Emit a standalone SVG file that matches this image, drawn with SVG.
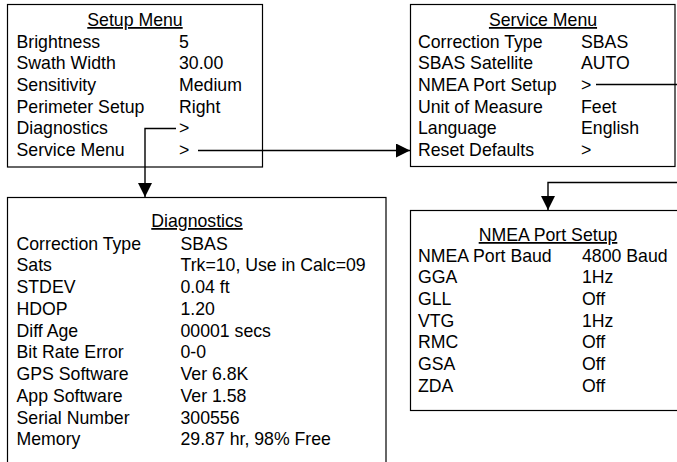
<svg xmlns="http://www.w3.org/2000/svg" width="677" height="462" viewBox="0 0 677 462">
<style>
  .box { fill: #fff; stroke: #000; stroke-width: 1.2; }
  text { font-family: "Liberation Sans", Arial, sans-serif; font-size: 17.7px; fill: #000; }
  .title { text-anchor: middle; text-decoration: underline; }
  .conn { fill: none; stroke: #000; stroke-width: 1.4; }
</style>
<defs>
  <marker id="arr" viewBox="0 0 14 14" refX="14" refY="7" markerWidth="14" markerHeight="14" markerUnits="userSpaceOnUse" orient="auto">
    <path d="M0,0 L14,7 L0,14 Z" fill="#000"/>
  </marker>
</defs>
<rect width="677" height="462" fill="#fff"/>

<g id="setup-menu">
  <rect class="box" x="7.5" y="4.5" width="255" height="162.5"/>
  <text class="title" x="135" y="26">Setup Menu</text>
  <text x="16.5" y="47.7">Brightness</text><text x="179" y="47.7">5</text>
  <text x="16.5" y="69.3">Swath Width</text><text x="179" y="69.3">30.00</text>
  <text x="16.5" y="91">Sensitivity</text><text x="179" y="91">Medium</text>
  <text x="16.5" y="112.6">Perimeter Setup</text><text x="179" y="112.6">Right</text>
  <text x="16.5" y="134.3">Diagnostics</text><text x="179" y="134.3">&gt;</text>
  <text x="16.5" y="156">Service Menu</text><text x="179" y="156">&gt;</text>
</g>

<g id="service-menu">
  <rect class="box" x="410.5" y="4.5" width="264.5" height="162"/>
  <text class="title" x="543" y="26">Service Menu</text>
  <text x="418" y="47.7">Correction Type</text><text x="581" y="47.7">SBAS</text>
  <text x="418" y="69.3">SBAS Satellite</text><text x="581" y="69.3">AUTO</text>
  <text x="418" y="91">NMEA Port Setup</text><text x="581" y="91">&gt;</text>
  <text x="418" y="112.6">Unit of Measure</text><text x="581" y="112.6">Feet</text>
  <text x="418" y="134.3">Language</text><text x="581" y="134.3">English</text>
  <text x="418" y="156">Reset Defaults</text><text x="581" y="156">&gt;</text>
</g>

<g id="diagnostics">
  <rect class="box" x="7.5" y="197.5" width="378.5" height="300"/>
  <text class="title" x="197" y="227">Diagnostics</text>
  <text x="16.5" y="249.5">Correction Type</text><text x="180.5" y="249.5">SBAS</text>
  <text x="16.5" y="271.25">Sats</text><text x="180.5" y="271.25">Trk=10, Use in Calc=09</text>
  <text x="16.5" y="293">STDEV</text><text x="180.5" y="293">0.04 ft</text>
  <text x="16.5" y="314.75">HDOP</text><text x="180.5" y="314.75">1.20</text>
  <text x="16.5" y="336.5">Diff Age</text><text x="180.5" y="336.5">00001 secs</text>
  <text x="16.5" y="358.25">Bit Rate Error</text><text x="180.5" y="358.25">0-0</text>
  <text x="16.5" y="380">GPS Software</text><text x="180.5" y="380">Ver 6.8K</text>
  <text x="16.5" y="401.75">App Software</text><text x="180.5" y="401.75">Ver 1.58</text>
  <text x="16.5" y="423.5">Serial Number</text><text x="180.5" y="423.5">300556</text>
  <text x="16.5" y="445.25">Memory</text><text x="180.5" y="445.25">29.87 hr, 98% Free</text>
</g>

<g id="nmea-port-setup">
  <rect class="box" x="410.5" y="210.5" width="300" height="200"/>
  <text class="title" x="548" y="241">NMEA Port Setup</text>
  <text x="418" y="261.7">NMEA Port Baud</text><text x="582" y="261.7">4800 Baud</text>
  <text x="418" y="283.4">GGA</text><text x="582" y="283.4">1Hz</text>
  <text x="418" y="305">GLL</text><text x="582" y="305">Off</text>
  <text x="418" y="326.7">VTG</text><text x="582" y="326.7">1Hz</text>
  <text x="418" y="348.4">RMC</text><text x="582" y="348.4">Off</text>
  <text x="418" y="370">GSA</text><text x="582" y="370">Off</text>
  <text x="418" y="391.7">ZDA</text><text x="582" y="391.7">Off</text>
</g>

<g id="connectors">
  <path class="conn" d="M176,128.5 H145 V197" marker-end="url(#arr)"/>
  <path class="conn" d="M198,150.5 H410" marker-end="url(#arr)"/>
  <path class="conn" d="M596,84.5 H677"/>
  <path class="conn" d="M677,182.5 H548 V210" marker-end="url(#arr)"/>
</g>
</svg>
